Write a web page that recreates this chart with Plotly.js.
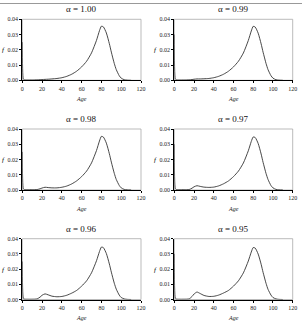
<!DOCTYPE html>
<html>
<head>
<meta charset="utf-8">
<script src="https://cdn.plot.ly/plotly-3.0.1.min.js"></script>
<style>
  html, body { margin: 0; padding: 0; background: #fff; }
  #chart { width: 302px; height: 331px; }
</style>
</head>
<body>
<div id="chart"></div>
<script>
// Age-at-death densities f(age) for six values of alpha
const ages = [0, 1, 2, 5, 10, 15, 18, 20, 23, 26, 30, 35, 40, 45, 50, 55, 60, 65, 70, 75, 78, 80, 82, 85, 88, 90, 93, 95, 98, 100, 103, 106, 110];

const alphaLabels = ["α = 1.00", "α = 0.99", "α = 0.98", "α = 0.97", "α = 0.96", "α = 0.95"];

const fAlpha100 = [0.025, 0.001, 0.0003, 0.0002, 0.0002, 0.0003, 0.0004, 0.0005, 0.0006, 0.0007, 0.0009, 0.0012, 0.0017, 0.0026, 0.0040,
  0.0060, 0.0088, 0.0125, 0.0180, 0.0262, 0.0325, 0.0355, 0.0350, 0.0310, 0.0240, 0.0185, 0.0110, 0.0070, 0.0030, 0.0014, 0.0004, 0.0001, 0];
const fAlpha099 = [0.030, 0.001, 0.0003, 0.0002, 0.0002, 0.0003, 0.0005, 0.0007, 0.0009, 0.0009, 0.0010, 0.0012, 0.0017, 0.0026, 0.0040,
  0.0060, 0.0088, 0.0125, 0.0179, 0.0261, 0.0323, 0.0354, 0.0349, 0.0309, 0.0239, 0.0184, 0.0110, 0.0070, 0.0030, 0.0014, 0.0004, 0.0001, 0];
const fAlpha098 = [0.025, 0.001, 0.0003, 0.0002, 0.0002, 0.0003, 0.0008, 0.0013, 0.0018, 0.0016, 0.0014, 0.0014, 0.0018, 0.0026, 0.0040,
  0.0060, 0.0088, 0.0124, 0.0178, 0.0259, 0.0321, 0.0352, 0.0347, 0.0307, 0.0238, 0.0183, 0.0109, 0.0069, 0.0030, 0.0014, 0.0004, 0.0001, 0];
const fAlpha097 = [0.030, 0.001, 0.0003, 0.0002, 0.0002, 0.0003, 0.0012, 0.0021, 0.0028, 0.0024, 0.0019, 0.0017, 0.0019, 0.0027, 0.0041,
  0.0060, 0.0088, 0.0124, 0.0177, 0.0257, 0.0318, 0.0348, 0.0344, 0.0305, 0.0236, 0.0181, 0.0108, 0.0069, 0.0029, 0.0014, 0.0004, 0.0001, 0];
const fAlpha096 = [0.025, 0.001, 0.0003, 0.0002, 0.0002, 0.0004, 0.0016, 0.0028, 0.0037, 0.0031, 0.0022, 0.0018, 0.0020, 0.0028, 0.0042,
  0.0060, 0.0088, 0.0123, 0.0176, 0.0255, 0.0315, 0.0345, 0.0341, 0.0302, 0.0234, 0.0180, 0.0107, 0.0068, 0.0029, 0.0013, 0.0004, 0.0001, 0];
const fAlpha095 = [0.030, 0.001, 0.0003, 0.0002, 0.0002, 0.0004, 0.0020, 0.0036, 0.0049, 0.0040, 0.0027, 0.0020, 0.0021, 0.0029, 0.0043,
  0.0060, 0.0088, 0.0123, 0.0175, 0.0253, 0.0312, 0.0342, 0.0338, 0.0299, 0.0232, 0.0178, 0.0106, 0.0067, 0.0029, 0.0013, 0.0004, 0.0001, 0];

const series = [fAlpha100, fAlpha099, fAlpha098, fAlpha097, fAlpha096, fAlpha095];

const xTicks = [0, 20, 40, 60, 80, 100, 120];
const yTicks = [0, 0.01, 0.02, 0.03, 0.04];

// Panel grid (paper fractions): two columns, three rows
const W = 302, H = 331;
const colDomains = [[22.3 / W, 141 / W], [174.3 / W, 292.7 / W]];
const rowDomains = [
  [1 - 80.3 / H, 1 - 19.3 / H],
  [1 - 190 / H, 1 - 129 / H],
  [1 - 299.5 / H, 1 - 238.7 / H]
];

const serif = "Liberation Serif, Times New Roman, serif";
const traces = [];
const layout = {
  width: W, height: H,
  margin: { l: 0, r: 0, t: 0, b: 0 },
  paper_bgcolor: "#fff", plot_bgcolor: "#fff",
  showlegend: false,
  font: { family: serif, color: "#000", size: 6 },
  annotations: [],
  shapes: [{
    type: "line", xref: "paper", yref: "paper",
    x0: 0, x1: 1, y0: 1 - 3.5 / H, y1: 1 - 3.5 / H,
    line: { color: "#999", width: 1 }
  }]
};

series.forEach((vals, i) => {
  const n = i + 1;
  const sfx = n === 1 ? "" : String(n);
  const col = i % 2, row = Math.floor(i / 2);
  traces.push({
    x: ages, y: vals, xaxis: "x" + sfx, yaxis: "y" + sfx,
    type: "scatter", mode: "lines",
    line: { color: "#333", width: 0.9, shape: "spline", smoothing: 0.6 },
    hoverinfo: "skip"
  });
  const common = {
    showline: true, linecolor: "#000", linewidth: 1, mirror: false,
    showgrid: false, zeroline: false,
    ticks: "outside", ticklen: 2, tickwidth: 1, tickcolor: "#000",
    tickfont: { family: serif, size: 6, color: "#222" }
  };
  layout["xaxis" + sfx] = Object.assign({}, common, {
    domain: colDomains[col], anchor: "y" + sfx,
    range: [0, 120], tickmode: "array", tickvals: xTicks,
    ticktext: xTicks.map(String)
  });
  layout["yaxis" + sfx] = Object.assign({}, common, {
    domain: rowDomains[row], anchor: "x" + sfx,
    range: [0, 0.04], tickmode: "array", tickvals: yTicks,
    ticktext: yTicks.map(v => v.toFixed(2))
  });
  // light frame around each plot area
  layout.shapes.push({
    type: "rect", xref: "x" + sfx + " domain", yref: "y" + sfx + " domain",
    x0: 0, x1: 1, y0: 0, y1: 1, layer: "below",
    line: { color: "#aaa", width: 0.8 }
  });
  const cx = (colDomains[col][0] + colDomains[col][1]) / 2;
  const topPx = H * (1 - rowDomains[row][1]);
  const botPx = H * (1 - rowDomains[row][0]);
  layout.annotations.push({
    text: alphaLabels[i], xref: "paper", yref: "paper",
    x: cx, y: 1 - (topPx - 10) / H, xanchor: "center", yanchor: "middle",
    showarrow: false, font: { family: serif, size: 9, color: "#111" }
  });
  layout.annotations.push({
    text: "<i>Age</i>", xref: "paper", yref: "paper",
    x: cx, y: 1 - (botPx + 18.5) / H, xanchor: "center", yanchor: "middle",
    showarrow: false, font: { family: serif, size: 6, color: "#222" }
  });
  layout.annotations.push({
    text: "<i>f</i>", xref: "paper", yref: "paper",
    x: (colDomains[col][0] * W - 19) / W,
    y: (rowDomains[row][0] + rowDomains[row][1]) / 2 - 0.5 / H,
    xanchor: "center", yanchor: "middle",
    showarrow: false, font: { family: serif, size: 7, color: "#000" }
  });
});

Plotly.newPlot("chart", traces, layout, { staticPlot: true, displayModeBar: false });
</script>
</body>
</html>
